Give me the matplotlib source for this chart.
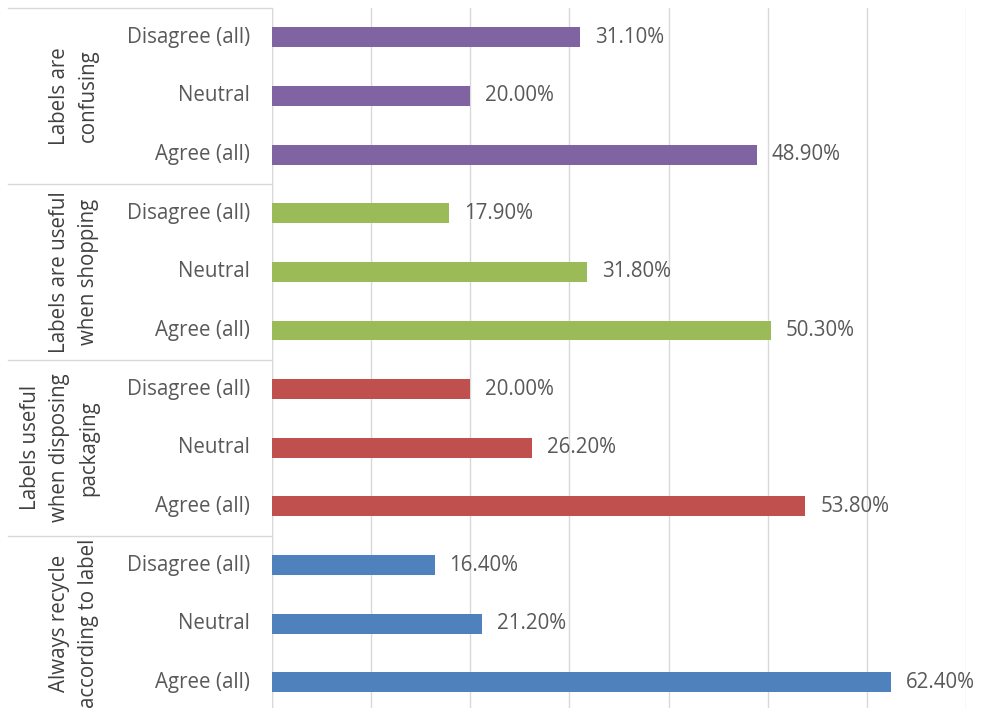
import matplotlib
matplotlib.use("Agg")
import matplotlib.pyplot as plt
from matplotlib.transforms import blended_transform_factory

groups = ["Always recycle\naccording to label", "Labels useful\nwhen disposing\npackaging",
          "Labels are useful\nwhen shopping", "Labels are\nconfusing"]
responses = ["Agree (all)", "Neutral", "Disagree (all)"]
values = [
    [62.4, 21.2, 16.4],
    [53.8, 26.2, 20.0],
    [50.3, 31.8, 17.9],
    [48.9, 20.0, 31.1],
]
colors = ["#4F81BD", "#C0504D", "#9BBB59", "#8064A2"]

plt.rcParams['font.family'] = ['Open Sans', 'DejaVu Sans']
W, H = 983, 708
fig = plt.figure(figsize=(W / 100, H / 100), dpi=100)
left_px, right_px, top_px, bottom_px = 272, 966, 8, 711.6
ax = fig.add_axes([left_px / W, 1 - bottom_px / H, (right_px - left_px) / W, (bottom_px - top_px) / H])

txt = "#595959"
fs = 14.8
ypos = 0
for g, (gname, vals, col) in enumerate(zip(groups, values, colors)):
    for r, (resp, v) in enumerate(zip(responses, vals)):
        ax.barh(ypos, v, height=0.34, color=col, zorder=3)
        ax.text(v + 1.5, ypos, f"{v:.2f}%", va="center", ha="left", fontsize=fs, color=txt)
        ax.text(-2.2, ypos, resp, va="center", ha="right", fontsize=fs, color=txt)
        ypos += 1

ax.set_xlim(0, 70)
ax.set_ylim(-0.5, 11.5)
ax.set_xticks(range(0, 71, 10))
ax.set_yticks([])
ax.tick_params(axis="x", length=0, labelbottom=False)
ax.grid(axis="x", color="#D9D9D9", linewidth=1, zorder=0)
for s in ax.spines.values():
    s.set_visible(False)
ax.axvline(0, color="#D9D9D9", linewidth=1, zorder=1)

tr = blended_transform_factory(ax.transAxes, ax.transData)
x0 = (8 - left_px) / (right_px - left_px)
for b in [11.5, 8.5, 5.5, 2.5]:
    ax.plot([x0, 0], [b, b], transform=tr, color="#D9D9D9", linewidth=1, clip_on=False)

xg = (99 - left_px) / (right_px - left_px)
for g, gname in enumerate(groups):
    ax.text(xg, g * 3 + 1, gname, transform=tr, rotation=90, ha="right", va="center",
            fontsize=fs, color="#404040", multialignment="center", linespacing=1.5)

fig.savefig("out.png", dpi=100)
